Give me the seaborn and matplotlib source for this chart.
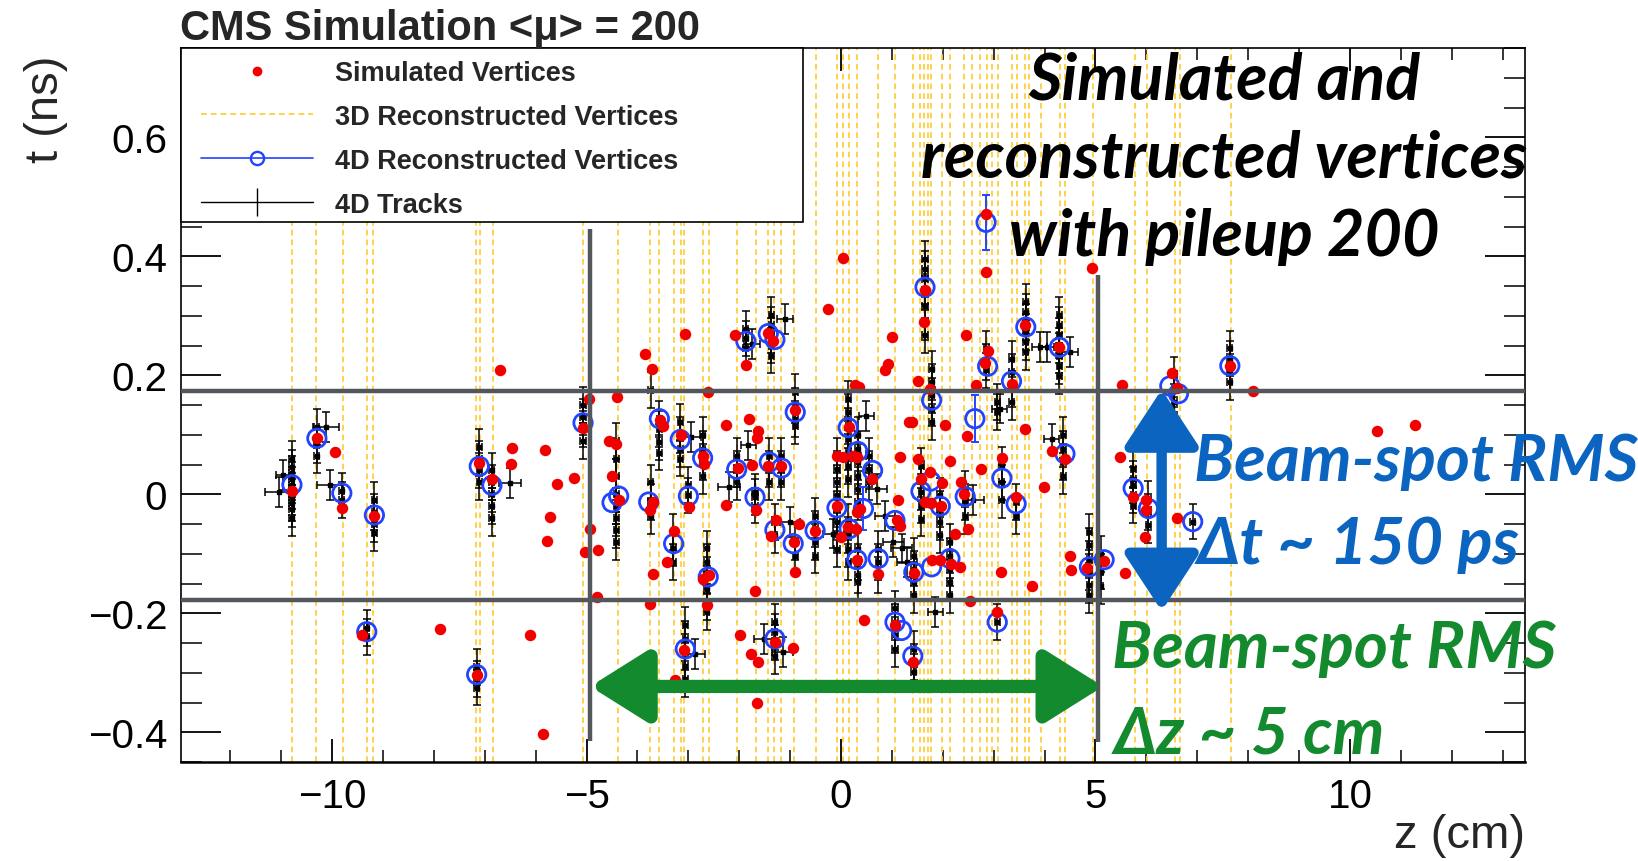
import matplotlib
matplotlib.use("Agg")
import matplotlib.pyplot as plt
import seaborn as sns
import pandas as pd
from matplotlib.lines import Line2D
from matplotlib.patches import Rectangle
from matplotlib.ticker import MultipleLocator

# ---------------- data ----------------
# 3D reconstructed vertices (z positions, cm)
vtx3d_z = [-10.79, -10.31, -9.79, -9.31, -9.19, -7.18, -7.09, -6.84, -5.07, -4.38,
           -3.75, -3.57, -3.29, -3.15, -3.08, -2.72, -2.60, -2.04, -1.67, -1.43,
           -1.31, -1.17, -0.92, -0.49, -0.08, 0.03, 0.16, 0.31, 0.73, 1.06,
           1.42, 1.55, 1.63, 1.70, 1.77, 1.98, 2.14, 2.42, 2.57, 2.74,
           2.87, 2.97, 3.08, 3.35, 3.45, 3.62, 3.70, 3.93, 4.30, 4.40,
           4.95, 5.77, 6.01, 6.56, 6.67, 7.66]

# simulated vertices
sim_z = [-10.79, -10.30, -9.94, -9.81, -9.17, -9.42, -7.89, -7.16, -7.11, -6.86,
         -6.70, -6.47, -6.48, -6.11, -5.85, -5.82, -5.59, -5.25, -5.72, -5.77,
         -5.07, -4.96, -4.93, -5.04, -4.78, -4.80, -4.55, -4.42, -4.41, -4.50,
         -4.37, -3.75, -3.70, -3.75, 0.03, -0.26, 1.00, 0.93, 0.86, 0.27,
         0.35, -2.08, -1.87, -1.43, -1.33, -3.06, -3.85, -3.72, -2.61, -3.56,
         -3.49, -3.15, -2.72, -2.69, -2.26, -1.80, -1.64, -1.66, -1.75, -2.02,
         -1.43, -1.18, -0.90, -0.08, 0.03, 0.16, 0.23, 0.31, 0.60, 1.15,
         1.34, -3.70, -2.98, -2.26, -1.67, -3.29, -3.42, -2.72, -2.60, -2.64,
         -1.70, -1.28, -1.38, -0.82, -0.92, -0.90, -0.51, -0.08, -0.01, 0.14,
         0.29, 0.31, 0.37, 0.31, 0.73, 1.11, 1.09, 1.15, 0.45, 1.06,
         -3.08, -3.26, -1.98, -1.77, -1.64, -1.30, -0.95, -1.66, 2.85, 2.85,
         4.93, 1.65, 1.63, 2.46, 2.88, 2.83, 3.61, 4.29, 3.35, 2.65,
         1.52, 1.75, 5.53, 6.50, 6.60, 7.64, 1.39, 2.04, 2.48, 3.61,
         4.14, 4.40, 5.48, 1.52, 1.75, 1.57, 2.14, 1.98, 2.35, 2.75,
         3.16, 3.99, 2.42, 3.44, 1.65, 1.76, 1.96, 2.24, 2.50, 1.43,
         1.79, 1.94, 2.16, 2.34, 3.14, 3.76, 2.53, 3.07, 1.42, 4.50,
         4.51, 4.83, 5.16, 5.58, 5.97, 6.00, 5.99, 5.74, 6.60, 8.10,
         10.53, 11.28]
sim_t = [0.006, 0.094, 0.071, -0.023, -0.036, -0.237, -0.226, -0.303, 0.053, 0.026,
         0.208, 0.078, 0.051, -0.236, -0.403, 0.075, 0.018, 0.028, -0.039, -0.078,
         0.111, 0.160, -0.059, -0.097, -0.093, -0.173, 0.090, 0.085, 0.163, 0.030,
         -0.010, -0.027, -0.134, -0.184, 0.397, 0.312, 0.264, 0.219, 0.208, 0.183,
         0.181, 0.268, 0.218, 0.271, 0.257, 0.269, 0.236, 0.211, 0.172, 0.124,
         0.115, 0.100, 0.065, 0.051, 0.117, 0.126, 0.106, 0.094, 0.050, 0.044,
         0.047, 0.047, 0.141, 0.064, 0.062, 0.113, 0.065, 0.062, 0.025, 0.062,
         0.122, -0.013, -0.022, -0.018, -0.027, -0.061, -0.114, -0.143, -0.136, -0.186,
         -0.163, -0.044, -0.070, -0.050, -0.080, -0.130, -0.061, -0.019, -0.072, -0.055,
         -0.058, -0.030, -0.024, -0.111, -0.134, -0.010, -0.044, -0.054, -0.211, -0.219,
         -0.262, -0.313, -0.236, -0.268, -0.282, -0.248, -0.258, -0.350, 0.471, 0.374,
         0.380, 0.343, 0.289, 0.267, 0.241, 0.221, 0.284, 0.247, 0.186, 0.184,
         0.191, 0.177, 0.183, 0.203, 0.178, 0.215, 0.122, 0.116, 0.098, 0.109,
         0.072, 0.060, 0.062, 0.060, 0.037, 0.026, 0.056, 0.019, 0.020, 0.043,
         0.061, 0.012, 0.001, -0.005, -0.013, -0.014, -0.019, -0.066, -0.058, -0.132,
         -0.111, -0.111, -0.118, -0.122, -0.130, -0.154, -0.180, -0.198, -0.282, -0.104,
         -0.128, -0.124, -0.113, -0.132, -0.072, -0.026, -0.010, -0.005, -0.040, 0.173,
         0.106, 0.117]

# 4D reconstructed vertices
v4d_z = [-10.79, -10.30, -9.81, -9.17, -7.11, -6.86, -5.07, -4.50, -4.37, -3.78,
         -9.32, -7.16, 1.65, 3.63, 4.29, 2.88, 3.35, -1.87, -1.43, -1.30,
         -0.90, -3.57, -3.16, -2.72, 0.14, 0.33, 0.62, 1.78, 2.63, 4.40,
         3.16, 3.44, 1.57, 1.76, 1.95, 2.44, 1.06, -0.08, 0.44, 0.16,
         0.31, 0.73, 1.43, 1.78, 2.14, -0.51, -0.94, -1.30, -1.69, -1.17,
         -1.41, -2.05, -3.00, -3.29, -2.61, -3.06, -1.30, 1.06, 1.19, 1.41,
         3.07, 4.88, 5.17, 5.74, 6.04, 6.91, 6.46, 6.63, 7.64, 2.85]
v4d_t = [0.016, 0.094, 0.002, -0.035, 0.047, 0.015, 0.120, -0.014, -0.003, -0.013,
         -0.231, -0.303, 0.348, 0.281, 0.247, 0.215, 0.190, 0.257, 0.270, 0.260,
         0.138, 0.127, 0.092, 0.061, 0.112, 0.072, 0.040, 0.158, 0.127, 0.068,
         0.027, -0.016, 0.005, 0.022, -0.020, -0.004, -0.044, -0.023, -0.024, -0.058,
         -0.110, -0.108, -0.131, -0.122, -0.108, -0.061, -0.083, -0.060, -0.005, 0.044,
         0.054, 0.042, -0.003, -0.083, -0.139, -0.260, -0.243, -0.215, -0.229, -0.272,
         -0.215, -0.122, -0.110, 0.010, -0.024, -0.046, 0.182, 0.169, 0.216, 0.457]
v4d_et = [0, 0, 0, 0, 0, 0, 0, 0, 0, 0,
          0, 0, 0, 0, 0, 0, 0, 0, 0, 0,
          0, 0, 0, 0, 0, 0, 0, 0, 0.040, 0,
          0, 0, 0, 0, 0, 0, 0, 0, 0.036, 0,
          0, 0, 0, 0, 0, 0, 0, 0, 0, 0,
          0, 0, 0, 0, 0, 0, 0, 0, 0, 0,
          0, 0, 0, 0, 0, 0, 0, 0, 0, 0.046]

# 4D tracks: stacks of tracks sharing a z position
stack_z = [-10.79, -10.30, -9.81, -9.17, -9.32, -7.16, -7.11, -6.86, -5.07, -4.42,
           -3.74, -3.57, -3.16, -2.72, -3.30, -3.00, -2.64, -2.05, -1.69, -1.41,
           -1.17, -1.30, -0.90, -0.51, -0.08, 0.14, 0.33, 0.55, 0.73, 1.06,
           1.43, 1.58, 1.78, 1.94, 2.14, 2.44, 2.85, 3.07, 3.16, 3.35,
           3.44, 3.63, 4.29, 4.37, 4.88, 5.10, -3.06, 1.65, -1.87, -1.37,
           5.74, 6.04, 6.91, 7.64, 6.55]
stack_t = [[0.06, 0.045, 0.035, 0.025, 0.015, 0.005, -0.005, -0.015, -0.025, -0.04],
           [0.113, 0.082, 0.065],
           [0.005, -0.01],
           [-0.01, -0.03, -0.05, -0.065],
           [-0.225, -0.24],
           [-0.29, -0.31, -0.325],
           [0.08, 0.06, 0.04, 0.02],
           [0.04, 0.02, 0.0, -0.02, -0.04],
           [0.15, 0.13, 0.11, 0.09],
           [0.09, 0.06, 0.03, 0.0, -0.02, -0.04, -0.06, -0.08],
           [0.175, 0.02, -0.013, -0.036],
           [0.127, 0.110, 0.088, 0.07],
           [0.121, 0.099, 0.076, 0.060],
           [0.099, 0.076, 0.054, 0.031],
           [-0.063, -0.091, -0.114],
           [-0.002, 0.015],
           [-0.091, -0.114, -0.136, -0.159, -0.181, -0.198],
           [0.065, 0.043, 0.020],
           [0.004, -0.005, -0.019],
           [0.065, 0.043, 0.020],
           [0.065, 0.043, 0.020],
           [-0.047, -0.069, -0.215, -0.232, -0.249, -0.272],
           [0.172, 0.149, 0.127, 0.115, -0.080, -0.103],
           [-0.036, -0.058, -0.080, -0.103],
           [0.065, 0.043, 0.020, -0.002, -0.025, -0.047, -0.069, -0.092],
           [0.160, 0.138, 0.115, 0.093, 0.071, 0.048, 0.026, -0.047, -0.069, -0.092, -0.114],
           [0.099, 0.076, 0.054, 0.031, 0.009, -0.013, -0.092, -0.114, -0.136, -0.147],
           [0.065, 0.043, 0.020],
           [-0.092, -0.114, -0.136],
           [-0.192, -0.215, -0.237, -0.260],
           [-0.103, -0.125, -0.147, -0.170, -0.260, -0.282, -0.299],
           [0.048, 0.026, 0.004, -0.019, -0.041],
           [0.211, 0.189, 0.166, 0.144, 0.121],
           [-0.002, -0.025, -0.047, -0.069],
           [-0.080, -0.103, -0.125, -0.147, -0.170],
           [0.009, -0.013, -0.036],
           [0.245, 0.222, 0.208],
           [0.155, 0.138, -0.215],
           [0.05, 0.02, -0.01],
           [0.227, 0.205, 0.177, 0.155],
           [-0.013, -0.036],
           [0.323, 0.306, 0.290, 0.273, 0.256, 0.239],
           [0.301, 0.284, 0.267, 0.250, 0.233, 0.216, 0.199],
           [0.099, 0.076, 0.054, 0.031],
           [-0.064, -0.086, -0.108, -0.131, -0.153, -0.17],
           [-0.10, -0.13, -0.155],
           [-0.220, -0.243, -0.265, -0.288, -0.310],
           [0.396, 0.379, 0.362, 0.340, 0.317, 0.289, 0.267],
           [0.278, 0.262, 0.245],
           [0.301, 0.284, 0.267, 0.250, 0.233],
           [0.043, 0.026, 0.015, -0.002, -0.019],
           [-0.008, -0.030, -0.052],
           [-0.046],
           [0.245, 0.228, 0.206, 0.189],
           [0.200, 0.177, 0.155, 0.133]]
stack_ez = 0.05
stack_et = 0.03

# isolated tracks with larger z uncertainty
wide_z = [-11.05, -10.96, -10.12, -10.04, -6.51, -2.95, -2.20, -1.82, -1.00, -0.15,
          0.50, 0.70, 0.86, 1.03, 1.19, 1.29, 1.85, 2.60, 3.12, 3.90,
          4.04, 4.50, 4.14, -2.87, -1.52, -1.15, -1.75, -1.10]
wide_t = [0.004, 0.032, 0.113, 0.015, 0.019, 0.096, 0.012, 0.082, -0.047, -0.066,
          0.132, 0.009, -0.036, -0.080, -0.091, -0.114, -0.198, -0.010, 0.144, 0.247,
          0.247, 0.239, 0.093, -0.268, -0.243, -0.265, 0.253, 0.295]
wide_ez = [0.26, 0.15, 0.25, 0.25, 0.22, 0.20, 0.22, 0.15, 0.20, 0.20,
           0.15, 0.20, 0.20, 0.20, 0.20, 0.20, 0.15, 0.20, 0.15, 0.15,
           0.15, 0.15, 0.15, 0.20, 0.20, 0.20, 0.15, 0.15]
wide_et = 0.025

xtick_vals = [-10, -5, 0, 5, 10]
xtick_labels = ["\u221210", "\u22125", "0", "5", "10"]
ytick_vals = [-0.4, -0.2, 0.0, 0.2, 0.4, 0.6]
ytick_labels = ["\u22120.4", "\u22120.2", "0", "0.2", "0.4", "0.6"]

legend_labels = ["Simulated Vertices", "3D Reconstructed Vertices",
                 "4D Reconstructed Vertices", "4D Tracks"]

beamspot_t = [0.174, -0.178]
beamspot_z = [-4.94, 5.04]

# ---------------- style ----------------
sns.set_theme(style="white")
plt.rcParams["font.family"] = ["Liberation Sans", "DejaVu Sans"]
plt.rcParams["axes.unicode_minus"] = True

W, H = 1638, 862
fig = plt.figure(figsize=(W / 100, H / 100), dpi=100)
fig.patch.set_facecolor("white")
ax = fig.add_axes([181 / W, 1 - 763 / H, (1525 - 181) / W, (763 - 49) / H])
ax.set_facecolor("white")

YEL = "#ffcf40"
BLUE4D = "#2244ff"
RED = "#f20000"
GRAY = "#53575c"
TXT_BLUE = "#0a64c0"
TXT_GREEN = "#138a2e"

# yellow dashed: 3D vertices
for z in vtx3d_z:
    ax.axvline(z, color=YEL, lw=1.3, ls=(0, (3.2, 2.2)), zorder=1)

# tracks
tz, tt = [], []
for z, ts in zip(stack_z, stack_t):
    for t in ts:
        tz.append(z)
        tt.append(t)
ax.errorbar(tz, tt, xerr=stack_ez, yerr=stack_et, fmt="s", ms=3.0, color="black",
            ecolor="black", elinewidth=1.1, capsize=2.6, capthick=1.1, zorder=2)
ax.errorbar(wide_z, wide_t, xerr=wide_ez, yerr=wide_et, fmt="s", ms=3.0, color="black",
            ecolor="black", elinewidth=1.1, capsize=2.6, capthick=1.1, zorder=2)

# 4D vertices
df4 = pd.DataFrame({"z": v4d_z, "t": v4d_t, "et": v4d_et})
dfe = df4[df4["et"] > 0]
ax.errorbar(dfe["z"], dfe["t"], yerr=dfe["et"], fmt="none", ecolor=BLUE4D,
            elinewidth=1.4, capsize=3, capthick=1.4, zorder=3)
sns.scatterplot(data=df4, x="z", y="t", ax=ax, marker="o", s=175,
                facecolors="none", edgecolor=BLUE4D, linewidth=2.0, zorder=3, legend=False)

# simulated vertices
dfs = pd.DataFrame({"z": sim_z, "t": sim_t})
sns.scatterplot(data=dfs, x="z", y="t", ax=ax, color=RED, s=68, linewidth=0,
                zorder=4, legend=False)

ax.set_xlim(-12.97, 13.44)
ax.set_ylim(-0.45, 0.75)
ax.set_xlabel("")
ax.set_ylabel("")

ax.set_xticks(xtick_vals)
ax.set_xticklabels(xtick_labels)
ax.set_yticks(ytick_vals)
ax.set_yticklabels(ytick_labels)
ax.xaxis.set_minor_locator(MultipleLocator(1))
ax.yaxis.set_minor_locator(MultipleLocator(0.05))
ax.tick_params(axis="x", which="major", direction="in", length=16.5, width=1.3,
               top=True, bottom=True, labelsize=29, pad=11, colors="black")
ax.tick_params(axis="x", which="minor", direction="in", length=8.8, width=1.3,
               top=True, bottom=True)
ax.tick_params(axis="y", which="major", direction="in", length=29, width=1.3,
               left=True, right=True, labelsize=29, pad=10, colors="black")
ax.tick_params(axis="y", which="minor", direction="in", length=15, width=1.3,
               left=True, right=True)
for sp in ax.spines.values():
    sp.set_color("black")
    sp.set_linewidth(1.2)
ax.spines["bottom"].set_linewidth(1.8)

# beam-spot annotation lines
for t in beamspot_t:
    ax.axhline(t, color=GRAY, lw=3.2, zorder=6)
ax.plot([beamspot_z[0], beamspot_z[0]], [0.446, -0.414], color=GRAY, lw=3.2,
        zorder=6, solid_capstyle="butt")
ax.plot([beamspot_z[1], beamspot_z[1]], [0.368, -0.416], color=GRAY, lw=3.2,
        zorder=6, solid_capstyle="butt")

# arrows
ax.annotate("", xy=(-4.93, -0.323), xytext=(5.15, -0.323),
            arrowprops=dict(arrowstyle="<|-|>,head_length=3.5,head_width=2.2",
                            mutation_scale=10, lw=9.5, color=TXT_GREEN,
                            shrinkA=0, shrinkB=0, joinstyle="round"), zorder=9)
ax.annotate("", xy=(6.30, 0.176), xytext=(6.30, -0.196),
            arrowprops=dict(arrowstyle="<|-|>,head_length=3.5,head_width=2.3",
                            mutation_scale=10, lw=7.5, color=TXT_BLUE,
                            shrinkA=0, shrinkB=0, joinstyle="round"), zorder=9)

# legend box + legend
lw_frac = (803 - 181) / 1344
lh_frac = (223 - 49) / 714
ax.add_patch(Rectangle((0, 1 - lh_frac), lw_frac, lh_frac, transform=ax.transAxes,
                       facecolor="white", edgecolor="black", lw=1.2, zorder=7,
                       clip_on=False))
handles = [
    Line2D([], [], ls="none", marker="o", ms=6, color=RED, mec=RED),
    Line2D([], [], color=YEL, lw=1.3, ls=(0, (3.2, 2.2))),
    Line2D([], [], color=BLUE4D, lw=1.2, marker="o", ms=9.5, mfc="none", mec=BLUE4D, mew=1.7),
    Line2D([], [], color="black", lw=1.0, marker="|", ms=20, mew=1.0),
]
leg = ax.legend(handles, legend_labels, loc="upper left",
                bbox_to_anchor=(20 / 1344, 1 - 12 / 714), frameon=False,
                borderpad=0, borderaxespad=0, handlelength=4.15, handletextpad=0.78,
                labelspacing=0.66,
                prop=dict(family="Liberation Sans", weight="bold", size=19.5))
leg.set_zorder(8)

# texts
def fx(X):
    return X / W


def fy(Y):
    return 1 - Y / H


fig.text(fx(180), fy(40), "CMS Simulation <\u03bc> = 200", ha="left", va="baseline",
         fontsize=30, fontweight="bold", family=["Liberation Sans", "DejaVu Sans"])
fig.text(fx(46), fy(56), "t (ns)", rotation=90, ha="center", va="top", fontsize=34,
         family=["Liberation Sans", "DejaVu Sans"])
fig.text(fx(1525), fy(848), "z (cm)", ha="right", va="baseline", fontsize=34,
         family=["Liberation Sans", "DejaVu Sans"])

LATO = ["Lato", "DejaVu Sans"]
for s, Y in [("Simulated and", 99), ("reconstructed vertices", 177), ("with pileup 200", 256)]:
    fig.text(fx(1224), fy(Y), s, ha="center", va="baseline", fontsize=46.5,
             fontweight="bold", fontstyle="italic", family=LATO, color="black", zorder=10)
fig.text(fx(1194), fy(481), "Beam-spot RMS", ha="left", va="baseline", fontsize=47,
         fontweight="bold", fontstyle="italic", family=LATO, color=TXT_BLUE, zorder=10)
fig.text(fx(1197), fy(564), "\u0394t ~ 150 ps", ha="left", va="baseline", fontsize=47,
         fontweight="bold", fontstyle="italic", family=LATO, color=TXT_BLUE, zorder=10)
fig.text(fx(1112), fy(668), "Beam-spot RMS", ha="left", va="baseline", fontsize=47,
         fontweight="bold", fontstyle="italic", family=LATO, color=TXT_GREEN, zorder=10)
fig.text(fx(1114), fy(753), "\u0394z ~ 5 cm", ha="left", va="baseline", fontsize=47,
         fontweight="bold", fontstyle="italic", family=LATO, color=TXT_GREEN, zorder=10)

fig.savefig("out.png", dpi=100, facecolor="white")
